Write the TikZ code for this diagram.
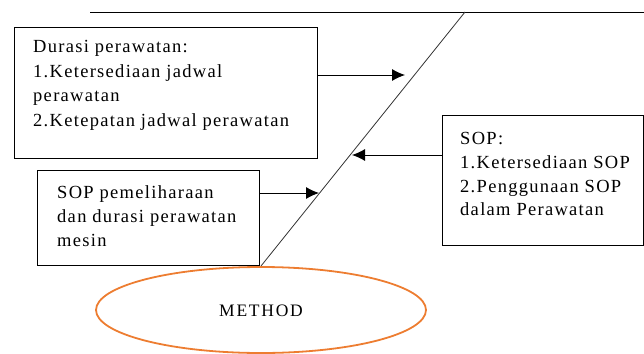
\documentclass[tikz,border=0pt]{standalone}
\usepackage{fontspec}
\setmainfont{Liberation Serif}
\usetikzlibrary{arrows.meta,shapes.geometric}
\definecolor{methodorange}{HTML}{ED7D31}
\begin{document}
\begin{tikzpicture}[x=1pt,y=-1pt,
  box/.style={draw,line width=0.9pt},
  txt/.style={anchor=north west,align=left,inner sep=0pt,font=\fontsize{18.5}{24.6}\selectfont\addfontfeatures{LetterSpace=7}},
  conn/.style={line width=0.9pt,-{Latex[length=13pt,width=12pt]}}]
\useasboundingbox (0,0) rectangle (644,353);
% spine and bone
\coordinate (topL) at (90,12);
\coordinate (topR) at (644,12);
\draw[line width=0.9pt] (topL) -- (topR);
\coordinate (boneTop) at (465,12);
\coordinate (boneBot) at (261,266);
\draw[line width=0.8pt,black!80] (boneTop) -- (boneBot);
% boxes
\draw[box] (14,27) rectangle (317,158);
\node[txt] (t1) at (33,40) {Durasi perawatan:\\1.Ketersediaan jadwal\\perawatan\\2.Ketepatan jadwal perawatan};
\draw[box] (442,115) rectangle (643,245);
\node[txt,font=\fontsize{18.5}{23.8}\selectfont\addfontfeatures{LetterSpace=7}] (t2) at (460,132) {SOP:\\1.Ketersediaan SOP\\2.Penggunaan SOP\\dalam Perawatan};
\draw[box] (37,170) rectangle (259,265);
\node[txt,font=\fontsize{18.5}{24.3}\selectfont\addfontfeatures{LetterSpace=7}] (t3) at (57,185) {SOP pemeliharaan\\dan durasi perawatan\\mesin};
% arrows
\coordinate (a1s) at (317,75);
\coordinate (a1e) at (405,75);
\draw[conn] (a1s) -- (a1e);
\coordinate (a2s) at (442,155);
\coordinate (a2e) at (352,155);
\draw[conn] (a2s) -- (a2e);
\coordinate (a3s) at (259,193);
\coordinate (a3e) at (319,193);
\draw[conn] (a3s) -- (a3e);
% ellipse
\node[draw=methodorange,line width=1.8pt,ellipse,minimum width=330pt,minimum height=86pt,inner sep=0pt] (m) at (261,310) {};
\node[font=\fontsize{17.5}{20}\selectfont\addfontfeatures{LetterSpace=10}] (mt) at (261,311) {METHOD};
\end{tikzpicture}
\end{document}
